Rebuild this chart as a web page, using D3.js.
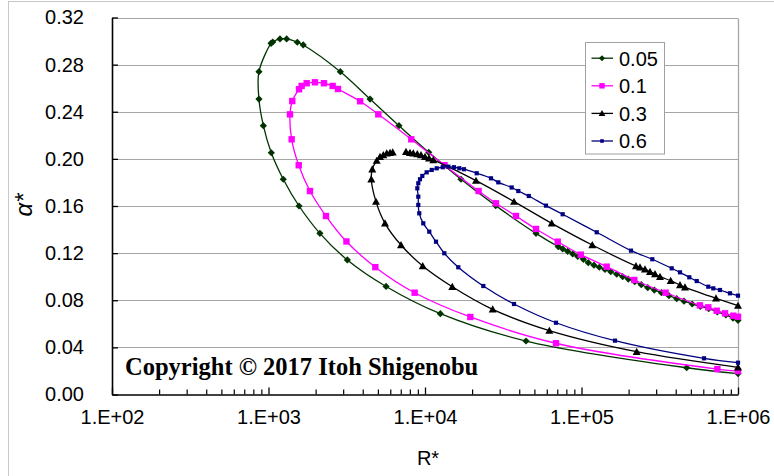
<!DOCTYPE html>
<html>
<head>
<meta charset="utf-8">
<script src="https://cdn.jsdelivr.net/npm/d3@7"></script>
<style>
  body { margin: 0; background: #fff; }
  svg { display: block; }
  text { font-family: "Liberation Sans", Arial, sans-serif; fill: #000; }
</style>
</head>
<body>
<svg id="chart" width="774" height="476"></svg>
<script>
// Neutral-stability loops: wave number alpha* against R* for four parameter values
const seriesNames = ["0.05", "0.1", "0.3", "0.6"];

const r005 = [1e6, 4.70e5, 4.42e4, 1.253e4, 5640, 3190, 2130, 1567, 1243, 1042, 927, 869, 869,
  1038, 1064, 1184, 1306, 1528, 1667, 2877, 4457, 6820, 10560, 16980, 28300, 51200,
  7.11e4, 7.59e4, 8.16e4, 8.79e4, 9.46e4, 1.028e5, 1.105e5, 1.202e5, 1.30e5, 1.413e5,
  1.538e5, 1.679e5, 1.833e5, 1.991e5, 2.19e5, 2.41e5, 2.65e5, 2.92e5, 3.24e5, 3.62e5,
  4.06e5, 4.52e5, 5.10e5, 5.74e5, 6.50e5, 7.38e5, 8.38e5, 9.29e5, 1e6];
const a005 = [0.0178, 0.0227, 0.0454, 0.0686, 0.0917, 0.1142, 0.1368, 0.1600, 0.1827, 0.2052, 0.2282, 0.2508, 0.2740,
  0.2981, 0.2992, 0.3018, 0.3018, 0.2990, 0.2967, 0.2740, 0.2508, 0.2282, 0.2056, 0.1827, 0.1603, 0.1368,
  0.1255, 0.1236, 0.1215, 0.1193, 0.1172, 0.1147, 0.1119, 0.1098, 0.1080, 0.1061,
  0.1042, 0.1021, 0.1000, 0.0980, 0.0957, 0.0932, 0.0907, 0.0886, 0.0864, 0.0839,
  0.0813, 0.0792, 0.0768, 0.0748, 0.0728, 0.0701, 0.0675, 0.0649, 0.0630];

const r01 = [1e6, 7.38e5, 6.87e4, 1.948e4, 8590, 4815, 3148, 2330, 1841, 1560, 1406, 1372, 1419,
  1567, 1629, 1754, 1982, 2262, 2570, 2780, 3850, 5030, 8170, 13320, 22000, 28400, 38150,
  51200, 70500, 98900, 1.449e5, 2.175e5, 3.45e5, 5.71e5, 6.46e5, 7.31e5, 8.26e5, 9.33e5, 1e6];
const a01 = [0.0199, 0.0216, 0.0435, 0.0658, 0.0864, 0.1081, 0.1299, 0.1515, 0.1727, 0.1946, 0.2166, 0.2378, 0.2491,
  0.2591, 0.2619, 0.2642, 0.2650, 0.2642, 0.2619, 0.2593, 0.2489, 0.2378, 0.2166, 0.1946, 0.1727, 0.1623, 0.1515,
  0.1405, 0.1297, 0.1187, 0.1085, 0.0972, 0.0864, 0.0757, 0.0740, 0.0711, 0.0689, 0.0669, 0.0660];

// null marks the missing point where the 0.3 loop is broken near its top
const r03 = [1e6, 2.252e5, 6.23e4, 2.707e4, 1.494e4, 9670, 7025, 5550, 4863, 4538, 4605, 4913, 5158,
  5414, 5693, 5976, 6218, null, 7560, 8020, 8420, 8930, 9430, 10000, 10610, 11300, 21180,
  37040, 64500, 1.172e5, 2.229e5, 2.364e5, 2.545e5, 2.74e5, 2.949e5, 3.174e5, 3.715e5,
  4.26e5, 4.585e5, 7.235e5, 1e6];
const a03 = [0.0231, 0.0363, 0.0542, 0.0723, 0.0915, 0.1091, 0.1269, 0.1453, 0.1637, 0.1827, 0.1912, 0.1985, 0.2018,
  0.2033, 0.2047, 0.2052, 0.2056, null, 0.2061, 0.2052, 0.2047, 0.2041, 0.2033, 0.2018, 0.2005, 0.1991, 0.1815,
  0.1637, 0.1453, 0.1269, 0.1091, 0.1080, 0.1063, 0.1042, 0.1023, 0.1000, 0.0966,
  0.0929, 0.0910, 0.0817, 0.0754];

const r06 = [1e6, 6.065e5, 1.637e5, 6.87e4, 3.704e4, 2.358e4, 1.632e4, 1.328e4, 1.176e4, 1.065e4, 9750, 9190,
  9060, 9060, 8930, 9060, 9290, 9610, 10250, 11040, 11880, 12980, 14090, 15320, 16570, 17750,
  21400, 26400, 29400, 35800, 39470, 46070, 59300, 75800, 1.251e5, 2.072e5, 2.834e5, 3.77e5,
  4.26e5, 4.885e5, 5.447e5, 6.46e5, 6.953e5, 7.67e5, 8.89e5, 1e6];
const a06 = [0.0270, 0.0307, 0.0457, 0.0609, 0.0768, 0.0921, 0.1080, 0.1199, 0.1297, 0.1382, 0.1453, 0.1538,
  0.1609, 0.1679, 0.1750, 0.1793, 0.1827, 0.1855, 0.1886, 0.1906, 0.1920, 0.1929, 0.1934, 0.1929, 0.1920, 0.1912,
  0.1878, 0.1835, 0.1801, 0.1757, 0.1727, 0.1685, 0.1603, 0.1530, 0.1377, 0.1221, 0.1148, 0.1071,
  0.1037, 0.0995, 0.0963, 0.0915, 0.0901, 0.0887, 0.0859, 0.0839];

const rTicks = [1e2, 1e3, 1e4, 1e5, 1e6];
const rTickLabels = ["1.E+02", "1.E+03", "1.E+04", "1.E+05", "1.E+06"];
const alphaTicks = [0, 0.04, 0.08, 0.12, 0.16, 0.20, 0.24, 0.28, 0.32];
const copyrightText = "Copyright \u00A9 2017 Itoh Shigenobu";

// drawing styles per series
const styles = [
  { color: "#003300", marker: "diamond", size: 3.6 },
  { color: "#ff00ff", marker: "square", size: 3.2 },
  { color: "#000000", marker: "triangle", size: 4 },
  { color: "#000080", marker: "square", size: 2.1 }
];

const svg = d3.select("#chart");
const plot = { left: 112, right: 738, top: 17.5, bottom: 394.5 };

// chart-area frame
svg.append("rect").attr("x", 8.5).attr("y", 1.5).attr("width", 900).attr("height", 600)
  .attr("fill", "#fff").attr("stroke", "#c8c8c8").attr("stroke-width", 1);

const x = d3.scaleLog().domain([1e2, 1e6]).range([plot.left, plot.right]);
const y = d3.scaleLinear().domain([0, 0.32]).range([plot.bottom, plot.top]);

// horizontal gridlines
svg.append("g").selectAll("line").data(alphaTicks.slice(1)).join("line")
  .attr("x1", plot.left).attr("x2", plot.right)
  .attr("y1", d => Math.round(y(d)) + 0.5).attr("y2", d => Math.round(y(d)) + 0.5)
  .attr("stroke", "#a6a6a6").attr("stroke-width", 1);
// right edge of plot area
svg.append("line").attr("x1", plot.right + 0.5).attr("x2", plot.right + 0.5)
  .attr("y1", Math.round(plot.top) + 0.5).attr("y2", plot.bottom)
  .attr("stroke", "#a6a6a6").attr("stroke-width", 1.3);

// y axis
const yAxis = svg.append("g").attr("transform", `translate(${plot.left},0)`)
  .call(d3.axisLeft(y).tickValues(alphaTicks).tickFormat(d3.format(".2f"))
    .tickSize(-6).tickSizeOuter(0).tickPadding(28));
yAxis.select(".domain").attr("stroke", "#000").attr("stroke-width", 1.6);
yAxis.selectAll(".tick line").attr("stroke", "#000").attr("stroke-width", 1.3);
yAxis.selectAll("text").style("font-size", "20px");

// x axis: minor ticks then major ticks with labels
const minorTicks = [];
for (let e = 2; e < 6; e++) for (let m = 2; m <= 9; m++) minorTicks.push(m * Math.pow(10, e));
const xMinor = svg.append("g").attr("transform", `translate(0,${plot.bottom})`)
  .call(d3.axisBottom(x).tickValues(minorTicks).tickFormat("").tickSize(-5).tickSizeOuter(0));
xMinor.select(".domain").remove();
xMinor.selectAll(".tick line").attr("stroke", "#000").attr("stroke-width", 1.2);

const xAxis = svg.append("g").attr("transform", `translate(0,${plot.bottom})`)
  .call(d3.axisBottom(x).tickValues(rTicks).tickFormat((d, i) => rTickLabels[i])
    .tickSize(-7).tickSizeOuter(0).tickPadding(15));
xAxis.select(".domain").attr("stroke", "#000").attr("stroke-width", 1.6);
xAxis.selectAll(".tick line").attr("stroke", "#000").attr("stroke-width", 1.3);
xAxis.selectAll("text").style("font-size", "20px");

// axis titles
svg.append("text").attr("x", 428).attr("y", 465).attr("text-anchor", "middle")
  .style("font-size", "20px").text("R*");
svg.append("text").attr("transform", "translate(32,205) rotate(-90)").attr("text-anchor", "middle")
  .style("font-size", "24px").style("font-style", "italic").text("\u03B1*");

// copyright notice
svg.append("text").attr("x", 125).attr("y", 375)
  .style("font-family", "'Liberation Serif', 'Times New Roman', serif")
  .style("font-weight", "bold").style("font-size", "24.5px").text(copyrightText);

// series
const seriesR = [r005, r01, r03, r06];
const seriesA = [a005, a01, a03, a06];

function markerPath(type, s) {
  if (type === "diamond") return `M0,${-s}L${s},0L0,${s}L${-s},0Z`;
  if (type === "triangle") return `M0,${-s}L${s},${s * 0.8}L${-s},${s * 0.8}Z`;
  return `M${-s},${-s}L${s},${-s}L${s},${s}L${-s},${s}Z`;
}

const line = d3.line()
  .defined(d => d.r != null && d.a != null)
  .x(d => x(d.r)).y(d => y(d.a))
  .curve(d3.curveCatmullRom.alpha(0.5));

seriesNames.forEach((name, i) => {
  const pts = seriesR[i].map((r, k) => ({ r, a: seriesA[i][k] }));
  const st = styles[i];
  const g = svg.append("g");
  g.append("path").attr("d", line(pts)).attr("fill", "none")
    .attr("stroke", st.color).attr("stroke-width", 1.3);
  g.selectAll("path.m").data(pts.filter(d => d.r != null)).join("path").attr("class", "m")
    .attr("transform", d => `translate(${x(d.r)},${y(d.a)})`)
    .attr("d", markerPath(st.marker, st.size)).attr("fill", st.color);
});

// legend
const leg = svg.append("g");
leg.append("rect").attr("x", 585.5).attr("y", 42.5).attr("width", 79).attr("height", 111.5)
  .attr("fill", "#fff").attr("stroke", "#a0a0a0").attr("stroke-width", 1);
seriesNames.forEach((name, i) => {
  const cy = 58.2 + i * 27.6;
  const st = styles[i];
  leg.append("line").attr("x1", 591.5).attr("x2", 613).attr("y1", cy).attr("y2", cy)
    .attr("stroke", st.color).attr("stroke-width", 1.3);
  leg.append("path").attr("transform", `translate(602,${cy})`)
    .attr("d", markerPath(st.marker, st.size * 0.85)).attr("fill", st.color);
  leg.append("text").attr("x", 619).attr("y", cy + 7.3).style("font-size", "20px").text(name);
});
</script>
</body>
</html>
